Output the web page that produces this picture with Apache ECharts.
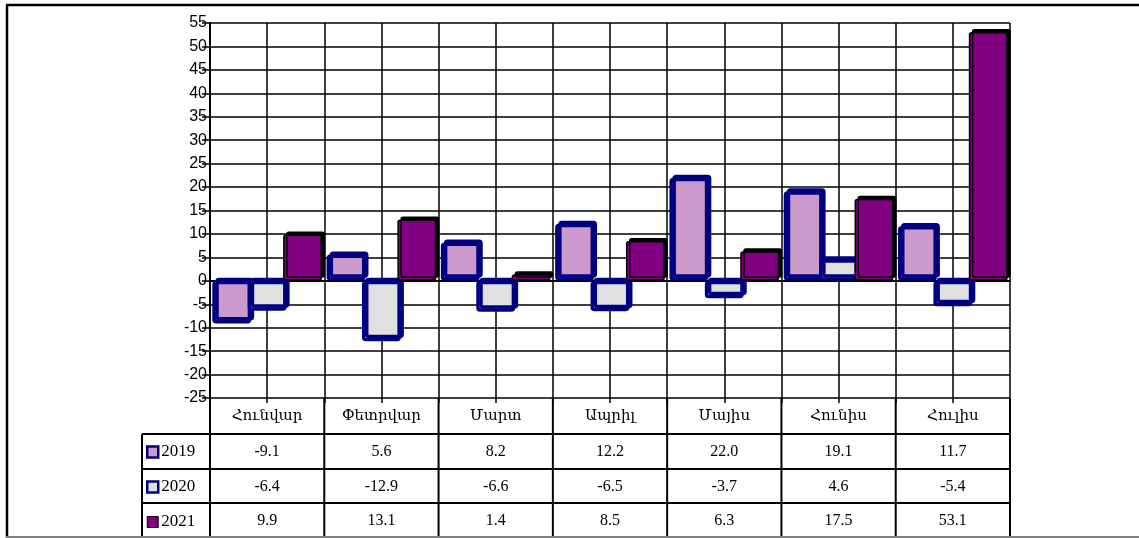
<!DOCTYPE html>
<html><head><meta charset="utf-8">
<script src="https://cdn.jsdelivr.net/npm/echarts@6/dist/echarts.min.js"></script>
<style>html,body{margin:0;padding:0;background:#fff}#c{width:1139px;height:538px}</style>
</head><body><div id="c"></div>
<script>
const months = ['Հունվար','Փետրվար','Մարտ','Ապրիլ','Մայիս','Հունիս','Հուլիս'];
const seriesNames = ['2019','2020','2021'];
const s2019 = [-9.1, 5.6, 8.2, 12.2, 22.0, 19.1, 11.7];
const s2020 = [-6.4, -12.9, -6.6, -6.5, -3.7, 4.6, -5.4];
const s2021 = [9.9, 13.1, 1.4, 8.5, 6.3, 17.5, 53.1];
const yTicks = {min: -25, max: 55, interval: 5};

const gridLeft = 210, gridRight = 129, gridTop = 23, gridBottom = 140;
const W = 1139, H = 538;
const serif = "'Liberation Serif','DejaVu Serif',serif";
const sans = "'Liberation Sans',Arial,sans-serif";
const halfTicks = [];
months.forEach((m,i)=>{halfTicks.push(m+'a'); halfTicks.push(m+'b');});

const chart = echarts.init(document.getElementById('c'), null, {renderer:'canvas'});
const plotW = W - gridLeft - gridRight;
const catW = plotW / months.length;
const tableTop = H - gridBottom;
const rowLines = [434, 469, 503];
const graphics = [];
function line(x1,y1,x2,y2,color,w){graphics.push({type:'line',silent:true,z:50,shape:{x1,y1,x2,y2},style:{stroke:color||'#000',lineWidth:w||2}});}
for(let k=0;k<=months.length;k++){ const x=gridLeft+k*catW; line(x,tableTop,x,537); }
rowLines.forEach(y=>line(142,y,gridLeft+plotW,y));
line(142,434,142,537);
line(6,5,W,5,'#000',2.5);
line(7,5,7,H,'#000',2.5);
line(6,537,W,537,'#808080',2);

function valueAxis(arr, offset){
  return {type:'category', gridIndex:0, position:'bottom', offset, data: arr.map(v=>v.toFixed(1)),
    axisLine:{show:false}, axisTick:{show:false}, splitLine:{show:false},
    axisLabel:{interval:0, margin:10, color:'#000', fontFamily:serif, fontSize:16}};
}
const navy = '#000080';
function barSeries(name, data, fill, border, bw){
  return {name, type:'bar', data, barGap:'-9%', barCategoryGap:'4%',
    itemStyle:{color:fill, borderColor:border, borderWidth:bw, borderRadius:2,
      shadowColor:border, shadowOffsetX:3, shadowOffsetY:-3, shadowBlur:0}};
}

chart.setOption({
  animation:false,
  backgroundColor:'#fff',
  grid:{left:gridLeft, right:gridRight, top:gridTop, bottom:gridBottom, containLabel:false},
  legend:{orient:'vertical', left:146, top:443, padding:0, itemWidth:11, itemHeight:11, itemGap:17,
    icon:'rect', selectedMode:false,
    textStyle:{fontFamily:serif, fontSize:17, color:'#000', lineHeight:18, padding:[0,0,0,-2]},
    data:[
      {name:'2019', itemStyle:{color:'#CC99CC', borderColor:navy, borderWidth:2.5}},
      {name:'2020', itemStyle:{color:'#E0E0E0', borderColor:navy, borderWidth:2.5}},
      {name:'2021', itemStyle:{color:'#800080', borderColor:'#000', borderWidth:1}}
    ]},
  xAxis:[
    {type:'category', data:months, position:'bottom',
      axisLine:{show:true, lineStyle:{color:'#000', width:2}}, axisTick:{show:false},
      axisLabel:{interval:0, margin:11, color:'#000', fontFamily:serif, fontSize:15},
      splitLine:{show:false}},
    {type:'category', data:halfTicks, position:'bottom',
      axisLine:{show:false}, axisLabel:{show:false},
      axisTick:{show:true, interval:0, length:5, lineStyle:{color:'#000', width:1.5}},
      splitLine:{show:true, interval:0, lineStyle:{color:'#000', width:1.5}}},
    valueAxis(s2019, 36),
    valueAxis(s2020, 71),
    valueAxis(s2021, 105)
  ],
  yAxis:{type:'value', min:yTicks.min, max:yTicks.max, interval:yTicks.interval,
    axisLine:{show:true, lineStyle:{color:'#000', width:2}},
    axisTick:{show:true, length:8, lineStyle:{color:'#000', width:1.5}},
    axisLabel:{color:'#000', fontFamily:sans, fontSize:16, margin:3},
    splitLine:{show:true, lineStyle:{color:'#000', width:1.5}}},
  series:[
    barSeries(seriesNames[0], s2019, '#CC99CC', navy, 3.5),
    barSeries(seriesNames[1], s2020, '#E0E0E0', navy, 3.5),
    barSeries(seriesNames[2], s2021, '#800080', '#000', 1.5)
  ],
  graphic: graphics
});
</script></body></html>
